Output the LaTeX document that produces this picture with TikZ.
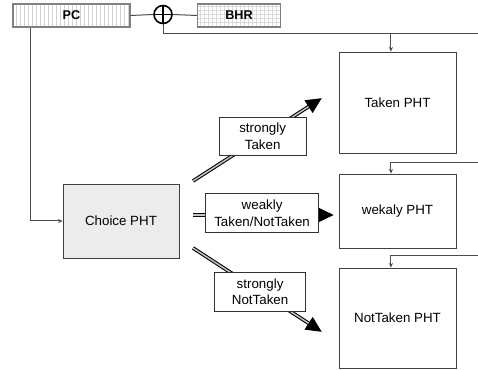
\documentclass[tikz,border=0pt]{standalone}
\usepackage{fontspec}
\setmainfont{Liberation Sans}
\usetikzlibrary{arrows.meta,patterns,calc}

\tikzset{
  pht/.style={draw=black!75, line width=0.6pt, minimum width=87.75pt, align=center, font=\fontsize{10}{12}\selectfont},
  reg/.style={draw=black!50, line width=1pt, minimum height=17.25pt, font=\bfseries\fontsize{9.5}{10}\selectfont},
  lbl/.style={draw=black!80, fill=white, line width=0.5pt, align=center, minimum height=29pt, inner sep=2pt, font=\fontsize{10}{12.5}\selectfont},
  wire/.style={draw=black!70, line width=0.75pt},
  feed/.style={wire, -{Stealth[length=3.5pt,width=3pt]}},
  big/.style={line width=2.7pt, -{Triangle[length=12pt,width=10.5pt]},
    postaction={draw=gray!45, line width=1.1pt, -, shorten >=12pt}}
}

\begin{document}
\begin{tikzpicture}[x=0.75pt,y=-0.75pt]
\useasboundingbox (0,0) rectangle (478,370);

% registers and hash
\node[reg, minimum width=87.75pt, pattern=vertical lines, pattern color=gray!35] (pc) at (71.5,15.5) {PC};
\node[draw, circle, line width=1.2pt, minimum size=13.5pt, inner sep=0pt] (xor) at (163,14.5) {};
\draw[line width=0.9pt] (xor.north) -- (xor.south) (xor.west) -- (xor.east);
\node[reg, minimum width=62pt, pattern=grid, pattern color=gray!30] (bhr) at (239,15.5) {BHR};

\draw[wire] (pc.east) -- (xor.west) (xor.east) -- (bhr.west);
\coordinate (e1) at (478,34);
\draw[wire] (xor.south) |- (e1);

% tables
\node[pht, minimum height=75.75pt] (taken) at (397.5,102.5) {Taken PHT};
\node[pht, minimum height=55.5pt] (weak) at (397.5,211) {wekaly PHT};
\node[pht, minimum height=75pt] (nottaken) at (397.5,318) {NotTaken PHT};
\node[pht, minimum width=87pt, minimum height=55.5pt, fill=gray!15] (choice) at (121,221) {Choice PHT};

% index feeds
\draw[feed] ([xshift=-4.9pt]taken.north |- e1) -- ([xshift=-4.9pt]taken.north);
\coordinate (e2) at (478,163);
\draw[feed] (e2) -| ([xshift=-4.9pt]weak.north);
\coordinate (e3) at (478,256);
\draw[feed] (e3) -| ([xshift=-4.9pt]nottaken.north);
\draw[feed] ([xshift=13.5pt]pc.south west) |- (choice.west);

% choice outcomes
\coordinate (s1) at (193,181); \coordinate (t1) at (322,98);
\coordinate (s2) at (193,215); \coordinate (t2) at (334,215);
\coordinate (s3) at (193,248); \coordinate (t3) at (322,332);
\draw[big] (s1) -- node[lbl, minimum width=65pt, pos=0.54] {strongly\\Taken} (t1);
\draw[big] (s2) -- node[lbl, minimum width=85pt, pos=0.49, yshift=1.5pt] {weakly\\Taken/NotTaken} (t2);
\draw[big] (s3) -- node[lbl, minimum width=68pt, pos=0.52] {strongly\\NotTaken} (t3);
\end{tikzpicture}
\end{document}
